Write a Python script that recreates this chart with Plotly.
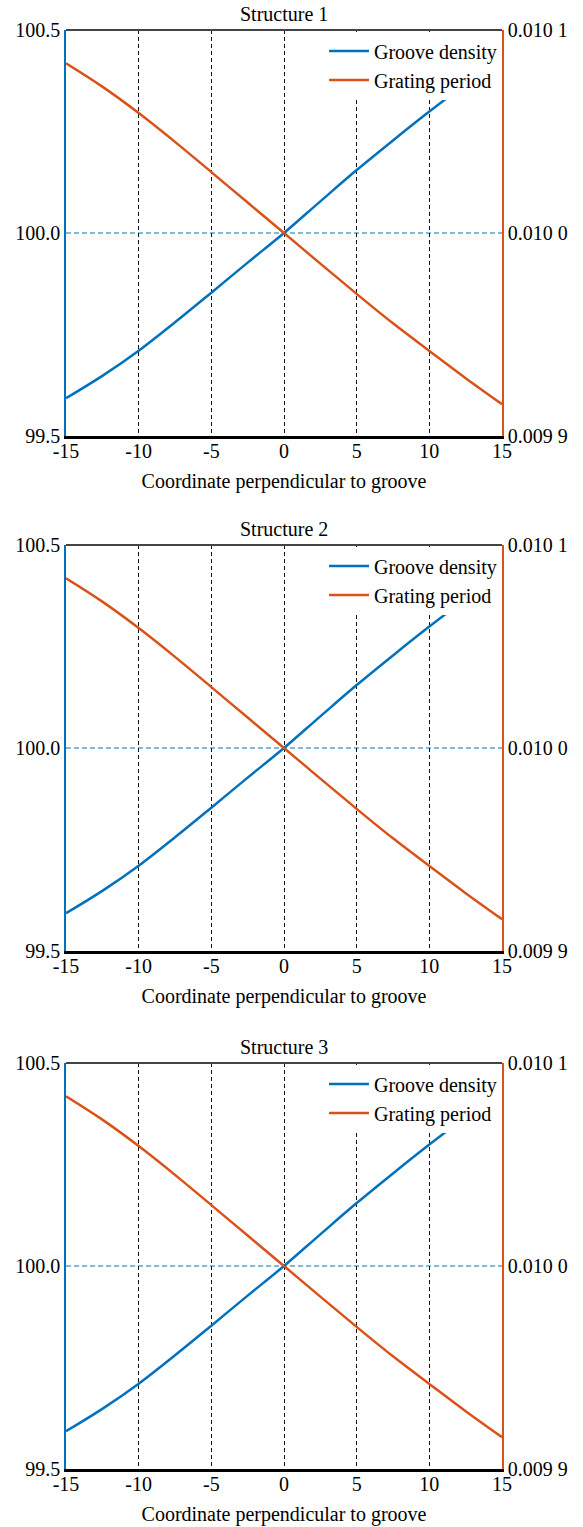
import plotly.graph_objects as go

# ---- data ----
x_coord = [-15, -12.5, -10, -7.5, -5, -2.5, 0, 2.5, 5, 7.5, 10, 12.5, 15]
groove_density = [99.593, 99.648, 99.710, 99.780, 99.853, 99.927, 100.000,
                  100.078, 100.155, 100.228, 100.299, 100.367, 100.431]
grating_period = [0.0100836, 0.0100721, 0.0100591, 0.0100449, 0.0100300, 0.0100150, 0.0100000,
                  0.0099849, 0.0099700, 0.0099555, 0.0099419, 0.0099285, 0.0099157]
titles = ["Structure 1", "Structure 2", "Structure 3"]
x_ticks = [-15, -10, -5, 0, 5, 10, 15]
left_ticks = [99.5, 100.0, 100.5]
left_labels = ["99.5", "100.0", "100.5"]
right_ticks = [0.0099, 0.0100, 0.0101]
right_labels = ["0.009 9", "0.010 0", "0.010 1"]

BLUE = "#0072BD"
ORANGE = "#D95319"
FONT = "Liberation Serif, Times New Roman, serif"
FS = 20

W, H = 583, 1527
ML, MR, MT, MB = 66, 81, 30, 58
PH = H - MT - MB
panels_px = [(30, 436), (545, 951), (1063, 1469)]  # pixel rows of plot areas


def py(pix):
    return (H - MB - pix) / PH


fig = go.Figure()
layout = dict(
    width=W, height=H,
    margin=dict(l=ML, r=MR, t=MT, b=MB, autoexpand=False),
    paper_bgcolor="white", plot_bgcolor="white",
    font=dict(family=FONT, size=FS, color="black"),
    showlegend=True,
)
annotations = []
shapes = []

for i in range(3):
    xa = f"x{i+1}" if i else "x"
    yl_idx = 2 * i + 1
    yr_idx = 2 * i + 2
    yl = f"y{yl_idx}" if yl_idx > 1 else "y"
    yr = f"y{yr_idx}"
    leg = "legend" if i == 0 else f"legend{i+1}"
    top_px, bot_px = panels_px[i]
    dom = [py(bot_px), py(top_px)]

    fig.add_trace(go.Scatter(x=x_coord, y=groove_density, mode="lines",
                             line=dict(color=BLUE, width=2.5, shape="spline"),
                             name="Groove density", xaxis=xa, yaxis=yl, legend=leg))
    fig.add_trace(go.Scatter(x=x_coord, y=grating_period, mode="lines",
                             line=dict(color=ORANGE, width=2.5, shape="spline"),
                             name="Grating period", xaxis=xa, yaxis=yr, legend=leg))

    xkey = "xaxis" if i == 0 else f"xaxis{i+1}"
    ylkey = "yaxis" if yl_idx == 1 else f"yaxis{yl_idx}"
    yrkey = f"yaxis{yr_idx}"

    layout[xkey] = dict(
        domain=[0, 1], anchor=yl, range=[-15, 15], automargin=False,
        tickvals=x_ticks, ticktext=[str(v) for v in x_ticks],
        showline=True, linecolor="black", linewidth=3,
        showgrid=True, gridcolor="#111111", gridwidth=1, griddash="4px,3px",
        zeroline=False, ticks="", ticklabelstandoff=-5,
        tickfont=dict(family=FONT, size=FS, color="black"),
        title=dict(text="Coordinate perpendicular to groove",
                   font=dict(family=FONT, size=FS, color="black"), standoff=13),
    )
    layout[ylkey] = dict(
        domain=dom, anchor=xa, range=[99.5, 100.5], automargin=False,
        tickvals=left_ticks, ticktext=left_labels,
        showline=True, linecolor=BLUE, linewidth=1.5,
        showgrid=False, zeroline=False, ticks="", ticklabelstandoff=0,
        tickfont=dict(family=FONT, size=FS, color="black"),
    )
    layout[yrkey] = dict(
        domain=dom, anchor=xa, overlaying=yl, side="right", range=[0.0099, 0.0101],
        automargin=False,
        tickvals=right_ticks, ticktext=right_labels,
        showline=True, linecolor=ORANGE, linewidth=1.5,
        showgrid=False, zeroline=False, ticks="", ticklabelstandoff=0,
        tickfont=dict(family=FONT, size=FS, color="black"),
    )
    layout[leg] = dict(
        x=1, y=dom[1] - 1.5 / PH, xanchor="right", yanchor="top",
        bgcolor="white", borderwidth=0,
        font=dict(family=FONT, size=FS, color="black"),
        tracegroupgap=0, itemwidth=40,
    )
    annotations.append(dict(
        text=titles[i], xref="paper", yref="paper", x=0.5, y=py(top_px - 16),
        xanchor="center", yanchor="middle", showarrow=False,
        font=dict(family=FONT, size=FS, color="black"),
    ))
    # centre reference line at the middle left-axis tick
    shapes.append(dict(
        type="line", xref=f"{xa} domain", yref=yl, layer="below",
        x0=0, x1=1, y0=left_ticks[1], y1=left_ticks[1],
        line=dict(color=BLUE, width=1, dash="5px,3px"),
    ))
    # top frame line
    shapes.append(dict(
        type="line", xref=f"{xa} domain", yref=f"{yl} domain",
        x0=0, x1=1, y0=1, y1=1, line=dict(color="#444444", width=2),
    ))

layout["annotations"] = annotations
layout["shapes"] = shapes
fig.update_layout(**layout)
fig.write_html("out.html",
               config={"displayModeBar": False},
               post_script="document.body.style.margin='0px';")
